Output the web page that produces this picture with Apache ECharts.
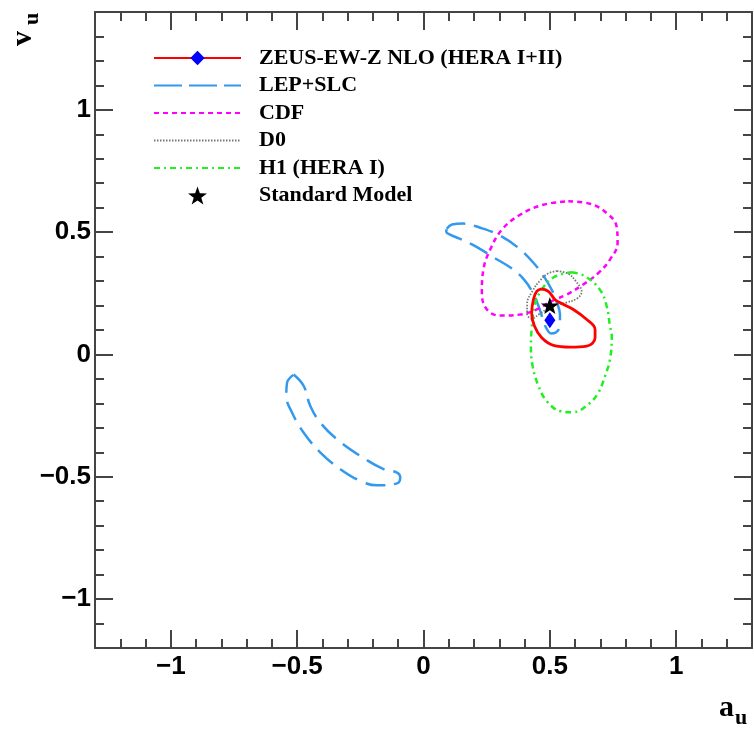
<!DOCTYPE html>
<html>
<head>
<meta charset="utf-8">
<script src="https://cdn.jsdelivr.net/npm/echarts@6/dist/echarts.min.js"></script>
<style>
  html, body { margin: 0; padding: 0; background: #fff; }
  #chart { width: 754px; height: 733px; }
</style>
</head>
<body>
<div id="chart"></div>
<script>
// axis ticks
var majorTicks = [-1, -0.5, 0, 0.5, 1]

// ZEUS-EW-Z NLO contour (a_u, v_u)
var zeusA = [0.468, 0.494, 0.521, 0.547, 0.593, 0.646, 0.679, 0.679, 0.646, 0.580, 0.514, 0.468, 0.439, 0.428, 0.435, 0.448, 0.468]
var zeusV = [0.268, 0.258, 0.224, 0.208, 0.184, 0.143, 0.102, 0.068, 0.034, 0.030, 0.037, 0.068, 0.116, 0.170, 0.224, 0.258, 0.268]
var zeusFit = [0.50, 0.14]

// LEP+SLC, two bands
var lepUpA = [0.092, 0.113, 0.157, 0.224, 0.303, 0.374, 0.434, 0.477, 0.509, 0.528, 0.540, 0.540, 0.524, 0.505, 0.485, 0.469, 0.453, 0.430, 0.398, 0.350, 0.279, 0.208, 0.153, 0.105, 0.090, 0.092]
var lepUpV = [0.514, 0.531, 0.535, 0.518, 0.486, 0.437, 0.376, 0.318, 0.261, 0.212, 0.163, 0.118, 0.090, 0.086, 0.110, 0.155, 0.204, 0.257, 0.306, 0.351, 0.396, 0.441, 0.469, 0.490, 0.502, 0.514]
var lepLoA = [-0.514, -0.474, -0.448, -0.408, -0.342, -0.250, -0.158, -0.105, -0.092, -0.105, -0.184, -0.250, -0.329, -0.408, -0.474, -0.520, -0.543, -0.540, -0.514]
var lepLoV = [-0.082, -0.129, -0.211, -0.279, -0.347, -0.415, -0.469, -0.483, -0.503, -0.527, -0.535, -0.517, -0.469, -0.401, -0.320, -0.238, -0.170, -0.116, -0.082]

// CDF
var cdfA = [0.573, 0.659, 0.725, 0.764, 0.768, 0.738, 0.692, 0.632, 0.567, 0.508, 0.448, 0.382, 0.303, 0.251, 0.231, 0.237, 0.264, 0.310, 0.382, 0.474, 0.573]
var cdfV = [0.626, 0.616, 0.578, 0.524, 0.456, 0.388, 0.333, 0.286, 0.245, 0.218, 0.184, 0.163, 0.159, 0.184, 0.252, 0.347, 0.429, 0.510, 0.571, 0.612, 0.626]

// D0
var d0A = [0.528, 0.572, 0.604, 0.626, 0.608, 0.564, 0.508, 0.461, 0.428, 0.410, 0.410, 0.430, 0.461, 0.493, 0.528]
var d0V = [0.341, 0.331, 0.298, 0.257, 0.229, 0.212, 0.196, 0.167, 0.147, 0.167, 0.208, 0.257, 0.302, 0.331, 0.341]

// H1 (HERA I)
var h1A = [0.587, 0.639, 0.698, 0.725, 0.738, 0.745, 0.738, 0.718, 0.692, 0.652, 0.593, 0.540, 0.488, 0.455, 0.432, 0.425, 0.428, 0.441, 0.473, 0.520, 0.587]
var h1V = [0.336, 0.320, 0.265, 0.197, 0.116, 0.075, -0.020, -0.089, -0.156, -0.204, -0.236, -0.231, -0.191, -0.129, -0.048, 0.034, 0.102, 0.204, 0.273, 0.318, 0.336]

// Standard Model point
var smPoint = [0.5, 0.2]

var starPath = 'path://M50,0L61.76,33.82L97.55,34.55L69.02,56.18L79.39,90.45L50,70L20.61,90.45L30.98,56.18L2.45,34.55L38.24,33.82Z'

function pairs (a, v) {
  return a.map(function (x, i) { return [x, v[i]] })
}

var frameColor = '#444'
var labelFont = { fontFamily: 'Liberation Sans', fontWeight: 'bold', fontSize: 26, color: '#000' }
var serif = '"Liberation Serif", "DejaVu Serif", serif'

function fmt (v) {
  return (v < 0 ? '\u2212' : '') + Math.abs(v)
}

// major axis (long ticks, optional labels)
function majorAxis (pos, min, max, labels, margin) {
  return {
    type: 'value', position: pos, min: min, max: max,
    axisLine: { show: true, onZero: false, lineStyle: { color: frameColor, width: 2 } },
    axisTick: { show: true, inside: true, length: 18, customValues: majorTicks, lineStyle: { color: frameColor, width: 2 } },
    axisLabel: Object.assign({ show: labels, customValues: majorTicks, margin: margin, formatter: fmt }, labelFont),
    splitLine: { show: false }
  }
}
// minor axis (short ticks every 0.1)
function minorAxis (pos, min, max) {
  return {
    type: 'value', position: pos, min: min, max: max, interval: 0.1,
    axisLine: { show: false, onZero: false },
    axisTick: { show: true, inside: true, length: 9, lineStyle: { color: frameColor, width: 2 } },
    axisLabel: { show: false },
    splitLine: { show: false }
  }
}

function contour (name, a, v, color, type, width) {
  return {
    name: name, type: 'line', data: pairs(a, v),
    symbol: 'none', smooth: 0.4,
    lineStyle: { color: color, width: width, type: type },
    itemStyle: { color: color },
    silent: true
  }
}

var chart = echarts.init(document.getElementById('chart'))
chart.setOption({
  animation: false,
  backgroundColor: '#fff',
  grid: { left: 95, right: 2, top: 12, bottom: 85 },
  xAxis: [
    majorAxis('bottom', -1.3, 1.3, true, 6),
    minorAxis('bottom', -1.3, 1.3),
    majorAxis('top', -1.3, 1.3, false, 6),
    minorAxis('top', -1.3, 1.3)
  ],
  yAxis: [
    majorAxis('left', -1.2, 1.4, true, 4),
    minorAxis('left', -1.2, 1.4),
    majorAxis('right', -1.2, 1.4, false, 4),
    minorAxis('right', -1.2, 1.4)
  ],
  legend: {
    orient: 'vertical', left: 153, top: 47, padding: 0,
    itemWidth: 87, itemHeight: 18, itemGap: 5.5,
    selectedMode: false,
    textStyle: { fontFamily: serif, fontWeight: 'bold', fontSize: 22, lineHeight: 22, color: '#000', padding: [0, 0, 0, 13] },
    data: [
      { name: 'ZEUS-EW-Z NLO (HERA I+II)' },
      { name: 'LEP+SLC', itemStyle: { opacity: 0 }, lineStyle: { type: [28, 7] } },
      { name: 'CDF', itemStyle: { opacity: 0 } },
      { name: 'D0', itemStyle: { opacity: 0 } },
      { name: 'H1 (HERA I)', itemStyle: { opacity: 0 } },
      { name: 'Standard Model' }
    ]
  },
  series: [
    contour('LEP+SLC', lepUpA, lepUpV, '#3399ee', [20, 9], 2.5),
    contour('LEP+SLC', lepLoA, lepLoV, '#3399ee', [20, 9], 2.5),
    contour('CDF', cdfA, cdfV, '#ff00ff', [5, 4], 2.5),
    contour('D0', d0A, d0V, '#777777', [1.5, 1.5], 1.8),
    contour('H1 (HERA I)', h1A, h1V, '#22ee22', [6, 4, 2, 4], 2.5),
    {
      name: 'ZEUS-EW-Z NLO (HERA I+II)', type: 'line', data: pairs(zeusA, zeusV),
      symbol: 'diamond', symbolSize: [11, 16], showSymbol: false, smooth: 0.4,
      lineStyle: { color: '#ff0000', width: 2.8, type: 'solid' },
      itemStyle: { color: '#0000ff' },
      silent: true
    },
    {
      name: 'ZEUS fit', type: 'scatter', data: [zeusFit],
      symbol: 'diamond', symbolSize: [11, 16],
      itemStyle: { color: '#0000ff', opacity: 1 }, z: 5
    },
    {
      name: 'Standard Model', type: 'scatter', data: [smPoint],
      symbol: starPath, symbolSize: 18, symbolKeepAspect: true,
      itemStyle: { color: '#000', opacity: 1 }, z: 6
    }
  ],
  graphic: [
    { type: 'text', x: 719, y: 708, style: { text: 'a', fontFamily: serif, fontWeight: 'bold', fontSize: 30, fill: '#000', align: 'left', verticalAlign: 'middle' } },
    { type: 'text', x: 735, y: 718, style: { text: 'u', fontFamily: serif, fontWeight: 'bold', fontSize: 22, fill: '#000', align: 'left', verticalAlign: 'middle' } },
    { type: 'text', x: 23, y: 46, rotation: Math.PI / 2, style: { text: 'v', fontFamily: serif, fontWeight: 'bold', fontSize: 30, fill: '#000', align: 'left', verticalAlign: 'middle' } },
    { type: 'text', x: 32, y: 25, rotation: Math.PI / 2, style: { text: 'u', fontFamily: serif, fontWeight: 'bold', fontSize: 22, fill: '#000', align: 'left', verticalAlign: 'middle' } }
  ]
})
</script>
</body>
</html>
